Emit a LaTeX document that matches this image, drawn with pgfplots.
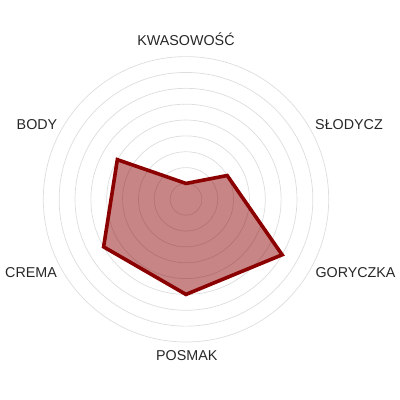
\documentclass[border=0pt]{standalone}
\usepackage{pgfplots}
\pgfplotsset{compat=1.18}
\usepgfplotslibrary{polar}
\usepackage{fontspec}
\setmainfont{Liberation Sans}

\definecolor{gridgray}{HTML}{DDDDDD}
\definecolor{linered}{HTML}{8B0000}

\begin{document}
\begin{tikzpicture}
\begin{polaraxis}[
    width=285.4pt, height=285.4pt,
    scale only axis,
    ymin=0, ymax=9,
    ytick={1,2,...,9},
    yticklabels={},
    xtick=\empty,
    ymajorgrids=true,
    xmajorgrids=false,
    major grid style={draw=gridgray, line width=0.7pt},
    axis line style={draw=none},
    tick style={draw=none},
]
\addplot[draw=linered, line width=3.6pt, fill=linered, fill opacity=0.48, line join=miter] coordinates {
    (90,1) (30,3) (-30,7) (-90,6) (210,6) (150,5)
} -- cycle;
\coordinate (c) at (axis cs:0,0);
\end{polaraxis}
\useasboundingbox ([shift={(-186pt,-200.7pt)}]c) rectangle ([shift={(214pt,199.3pt)}]c);
\begin{scope}[every node/.style={font=\fontsize{14.3}{16}\selectfont, text=black!85}]
\node at ([shift={(0pt,160.5pt)}]c) {KWASOWOŚĆ};
\node at ([shift={(163pt,74.3pt)}]c) {SŁODYCZ};
\node at ([shift={(169.5pt,-73.4pt)}]c) {GORYCZKA};
\node at ([shift={(0.8pt,-156.7pt)}]c) {POSMAK};
\node at ([shift={(-155pt,-73.4pt)}]c) {CREMA};
\node at ([shift={(-149pt,74.3pt)}]c) {BODY};
\end{scope}
\end{tikzpicture}
\end{document}
